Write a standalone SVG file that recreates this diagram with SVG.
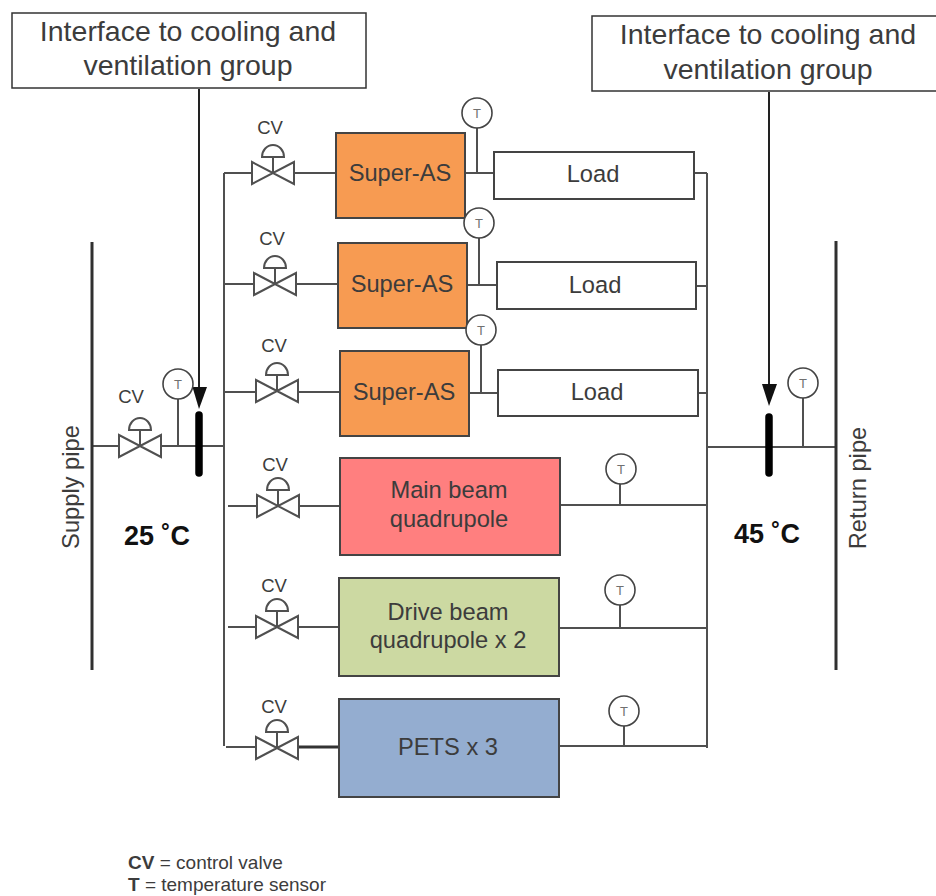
<svg xmlns="http://www.w3.org/2000/svg" width="936" height="896" viewBox="0 0 936 896">
<style>
text{font-family:"Liberation Sans",Arial,sans-serif;fill:#3c3c3c;text-anchor:middle}
.l{fill:none;stroke:#505050;stroke-width:2}
.pipe{fill:none;stroke:#303030;stroke-width:3}
.box{stroke:#444;stroke-width:2}
.t28{font-size:28.5px}
.t24{font-size:23.7px}
.t18{font-size:18.5px}
.t12{font-size:13px;fill:#707070}
.iface{fill:#fff;stroke:#333;stroke-width:1.5}
.temp{font-size:27px;font-weight:bold;fill:#111}
.leg{font-size:19px;text-anchor:start}
</style>
<defs>
<g id="valve"><path d="M-21-11V11L21-11V11Z" fill="#fff" stroke="#505050" stroke-width="2"/><path d="M0 0V-16" class="l"/><path d="M-11-16A11 12 0 0 1 11-16Z" fill="#fff" stroke="#505050" stroke-width="2"/></g>
<circle id="temp" r="15" fill="#fff" stroke="#444" stroke-width="1.6"/>
</defs>
<g id="connectors">
<path class="l" d="M92 446H118M162 446H224M178 446V399"/>
<path class="l" d="M224 173V746M224 173H252M294 173H336M224 284H254M296 284H338M224 392H256M298 392H340M228 506H257M299 506H340M228 627H256M298 627H340M226 747H256"/>
<path class="l" d="M465 173H494M477 173V126M467 285H497M479 285V237M469 393H498M481 393V344"/>
<path class="l" d="M694 173H707M696 286H707M698 393H707M560 505H707M620 505V482M560 628H707M620 628V604M559 746H707M624 746V725"/>
<path class="l" d="M707 173V748M707 447H836M803 447V397"/>
<path d="M298 747H340" fill="none" stroke="#333" stroke-width="3"/>
<path class="pipe" d="M92 242V670M836 241V670"/>
<path d="M199 89V392" fill="none" stroke="#222" stroke-width="2"/>
<path d="M192.500 387H207L199 409Z" fill="#111"/>
<path d="M769 92V387" fill="none" stroke="#222" stroke-width="2"/>
<path d="M762 384H777L769 406Z" fill="#111"/>
<path d="M199 415V473" fill="none" stroke="#000" stroke-width="7.500" stroke-linecap="round"/>
<path d="M769 417V473" fill="none" stroke="#000" stroke-width="7.500" stroke-linecap="round"/>
</g>
<g id="iface-left"><rect class="iface" x="12" y="13" width="354" height="75"/><text class="t28" x="188" y="41">Interface to cooling and</text><text class="t28" x="188" y="75">ventilation group</text></g>
<g id="iface-right"><rect class="iface" x="592" y="16" width="354" height="75"/><text class="t28" x="768" y="44">Interface to cooling and</text><text class="t28" x="768" y="79">ventilation group</text></g>
<g id="supply-label"><text class="t24" transform="translate(79 487) rotate(-90)">Supply pipe</text></g>
<g id="return-label"><text class="t24" transform="translate(866 488) rotate(-90)">Return pipe</text></g>
<g id="temp-25"><text class="temp" x="157" y="545">25 ˚C</text></g>
<g id="temp-45"><text class="temp" x="767" y="543">45 ˚C</text></g>
<g id="valve-main"><use href="#valve" x="140" y="446"/><text class="t18" x="131" y="403">CV</text></g>
<g id="valve-1"><use href="#valve" x="273" y="173"/><text class="t18" x="270" y="134">CV</text></g>
<g id="valve-2"><use href="#valve" x="275" y="284"/><text class="t18" x="272" y="245">CV</text></g>
<g id="valve-3"><use href="#valve" x="277" y="391"/><text class="t18" x="274" y="352">CV</text></g>
<g id="valve-4"><use href="#valve" x="278" y="506"/><text class="t18" x="275" y="471">CV</text></g>
<g id="valve-5"><use href="#valve" x="277" y="627"/><text class="t18" x="274" y="592">CV</text></g>
<g id="valve-6"><use href="#valve" x="277" y="748"/><text class="t18" x="274" y="713">CV</text></g>
<g id="sa-1"><rect class="box" x="336" y="133" width="129" height="85" fill="#f79b52"/><text class="t24" x="400" y="181">Super-AS</text></g>
<g id="sa-2"><rect class="box" x="338" y="243" width="129" height="85" fill="#f79b52"/><text class="t24" x="402" y="292">Super-AS</text></g>
<g id="sa-3"><rect class="box" x="340" y="351" width="129" height="85" fill="#f79b52"/><text class="t24" x="404" y="400">Super-AS</text></g>
<g id="load-1"><rect class="box" x="494" y="152" width="200" height="47" fill="#fff"/><text class="t24" x="593" y="182">Load</text></g>
<g id="load-2"><rect class="box" x="497" y="262" width="199" height="47" fill="#fff"/><text class="t24" x="595" y="293">Load</text></g>
<g id="load-3"><rect class="box" x="498" y="370" width="200" height="46" fill="#fff"/><text class="t24" x="597" y="400">Load</text></g>
<g id="main-beam"><rect class="box" x="340" y="458" width="220" height="97" fill="#ff7f7f"/><text class="t24" x="449" y="498">Main beam</text><text class="t24" x="449" y="527">quadrupole</text></g>
<g id="drive-beam"><rect class="box" x="339" y="578" width="220" height="98" fill="#ccd9a2"/><text class="t24" x="448" y="620">Drive beam</text><text class="t24" x="448" y="648">quadrupole x 2</text></g>
<g id="pets"><rect class="box" x="339" y="699" width="220" height="98" fill="#94add0"/><text class="t24" x="448" y="755">PETS x 3</text></g>
<g id="t-main"><use href="#temp" x="178" y="384"/><text class="t12" x="178" y="389">T</text></g>
<g id="t-1"><use href="#temp" x="477" y="113"/><text class="t12" x="477" y="118">T</text></g>
<g id="t-2"><use href="#temp" x="479" y="223"/><text class="t12" x="479" y="228">T</text></g>
<g id="t-3"><use href="#temp" x="481" y="330"/><text class="t12" x="481" y="335">T</text></g>
<g id="t-4"><use href="#temp" x="621" y="469"/><text class="t12" x="621" y="474">T</text></g>
<g id="t-5"><use href="#temp" x="620" y="590"/><text class="t12" x="620" y="595">T</text></g>
<g id="t-6"><use href="#temp" x="624" y="711"/><text class="t12" x="624" y="716">T</text></g>
<g id="t-return"><use href="#temp" x="803" y="383"/><text class="t12" x="803" y="388">T</text></g>
<g id="legend"><text class="leg" x="128" y="869"><tspan font-weight="bold">CV</tspan> = control valve</text><text class="leg" x="128" y="891"><tspan font-weight="bold">T</tspan> = temperature sensor</text></g>
</svg>
